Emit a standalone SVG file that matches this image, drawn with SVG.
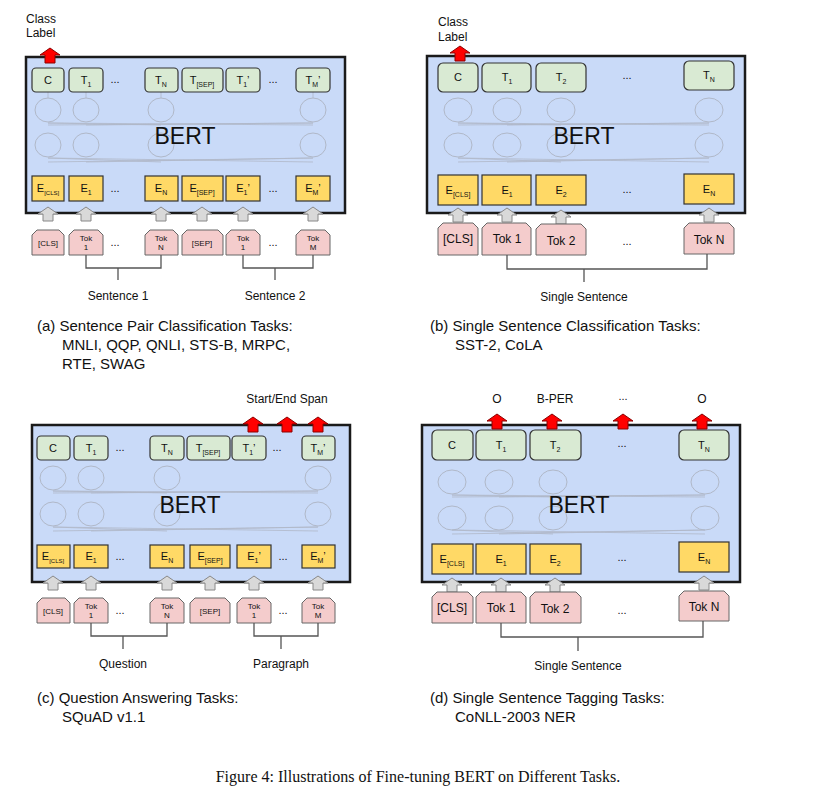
<svg xmlns="http://www.w3.org/2000/svg" width="837" height="798" viewBox="0 0 837 798">
<style>
text{font-family:"Liberation Sans",Arial,sans-serif;fill:#111}
.bert{fill:#c9daf8;stroke:#1a1a1a;stroke-width:2.5}
.t{fill:#d9ead3;stroke:#333;stroke-width:1.2}
.e{fill:#ffd966;stroke:#333;stroke-width:1.2}
.tok{fill:#f4cccc;stroke:#666;stroke-width:1}
.ga{fill:#d9d9d9;stroke:#888;stroke-width:1}
.ra{fill:#ff0000;stroke:#8b0000;stroke-width:1}
.nn ellipse{fill:none;stroke:#b0b8c8;stroke-width:1}
.nn line{stroke:#b0b8c8;stroke-width:0.8}
.br{fill:none;stroke:#555;stroke-width:1.3}
.bl{font-size:11px;text-anchor:middle}
.sm{font-size:8px;text-anchor:middle}
.bt{font-size:23px;text-anchor:middle}
.lb{font-size:12px;text-anchor:middle}
.cap{font-size:15px}
.d{font-size:11px;text-anchor:middle}
</style>
<defs>
<path id="ga" class="ga" d="M0,0 L10,7 L5,7 L5,14 L-5,14 L-5,7 L-10,7 Z"/>
<path id="ra" class="ra" d="M0,0 L10,7 L5,7 L5,15 L-5,15 L-5,7 L-10,7 Z"/>
</defs>

<!-- Panel A -->
<g id="panelA">
<rect class="bert" x="26" y="57" width="319" height="156"/>
<g class="nn">
<ellipse cx="48" cy="110" rx="13" ry="12"/><ellipse cx="86" cy="110" rx="13" ry="12"/><ellipse cx="161" cy="110" rx="13" ry="12"/><ellipse cx="313" cy="110" rx="13" ry="12"/>
<ellipse cx="48" cy="145" rx="13" ry="12"/><ellipse cx="86" cy="145" rx="13" ry="12"/><ellipse cx="161" cy="145" rx="13" ry="12"/><ellipse cx="313" cy="145" rx="13" ry="12"/>
<line x1="48" y1="125" x2="313" y2="123"/><line x1="313" y1="125" x2="48" y2="123"/><line x1="86" y1="125" x2="313" y2="123"/><line x1="161" y1="125" x2="48" y2="123"/>
<line x1="48" y1="162" x2="313" y2="158"/><line x1="313" y1="162" x2="48" y2="158"/><line x1="86" y1="162" x2="313" y2="158"/><line x1="161" y1="162" x2="48" y2="158"/>
<line x1="48" y1="92" x2="48" y2="98"/><line x1="86" y1="92" x2="86" y2="98"/><line x1="161" y1="92" x2="161" y2="98"/><line x1="313" y1="92" x2="313" y2="98"/>
</g>
<text class="bt" x="185" y="144">BERT</text>
<rect class="t" x="32" y="68" width="32" height="24" rx="4"/><text class="bl" x="48" y="84">C</text>
<rect class="t" x="69" y="68" width="34" height="24" rx="4"/><text class="bl" x="86" y="84">T<tspan font-size="7" dy="3">1</tspan></text>
<text class="d" x="115" y="83">...</text>
<rect class="t" x="145" y="68" width="33" height="24" rx="4"/><text class="bl" x="161" y="84">T<tspan font-size="7" dy="3">N</tspan></text>
<rect class="t" x="182" y="68" width="41" height="24" rx="4"/><text class="bl" x="202" y="84">T<tspan font-size="7" dy="3">[SEP]</tspan></text>
<rect class="t" x="226" y="68" width="34" height="24" rx="4"/><text class="bl" x="243" y="84">T<tspan font-size="7" dy="3">1</tspan><tspan dy="-3">’</tspan></text>
<text class="d" x="273" y="83">...</text>
<rect class="t" x="296" y="68" width="34" height="24" rx="4"/><text class="bl" x="313" y="84">T<tspan font-size="7" dy="3">M</tspan><tspan dy="-3">’</tspan></text>
<rect class="e" x="32" y="176" width="32" height="25"/><text class="bl" x="48" y="192">E<tspan font-size="6" dy="3">[CLS]</tspan></text>
<rect class="e" x="69" y="176" width="34" height="25"/><text class="bl" x="86" y="192">E<tspan font-size="7" dy="3">1</tspan></text>
<text class="d" x="115" y="192">...</text>
<rect class="e" x="145" y="176" width="33" height="25"/><text class="bl" x="161" y="192">E<tspan font-size="7" dy="3">N</tspan></text>
<rect class="e" x="182" y="176" width="41" height="25"/><text class="bl" x="202" y="192">E<tspan font-size="7" dy="3">[SEP]</tspan></text>
<rect class="e" x="226" y="176" width="34" height="25"/><text class="bl" x="243" y="192">E<tspan font-size="7" dy="3">1</tspan><tspan dy="-3">’</tspan></text>
<text class="d" x="273" y="192">...</text>
<rect class="e" x="296" y="176" width="34" height="25"/><text class="bl" x="313" y="192">E<tspan font-size="7" dy="3">M</tspan><tspan dy="-3">’</tspan></text>
<use href="#ga" x="48" y="207"/><use href="#ga" x="86" y="207"/><use href="#ga" x="161" y="207"/><use href="#ga" x="202" y="207"/><use href="#ga" x="243" y="207"/><use href="#ga" x="313" y="207"/>
<use href="#ra" x="50" y="48"/>
<text font-size="12" x="26" y="23">Class</text><text font-size="12" x="26" y="37">Label</text>
<path class="tok" d="M32,235 L37,230 L59,230 L64,235 L64,255 L32,255 Z"/><text class="sm" x="48" y="246">[CLS]</text>
<path class="tok" d="M69,235 L74,230 L98,230 L103,235 L103,255 L69,255 Z"/><text class="sm" x="86" y="241">Tok</text><text class="sm" x="86" y="250">1</text>
<text class="d" x="115" y="246">...</text>
<path class="tok" d="M145,235 L150,230 L173,230 L178,235 L178,255 L145,255 Z"/><text class="sm" x="161" y="241">Tok</text><text class="sm" x="161" y="250">N</text>
<path class="tok" d="M182,235 L187,230 L218,230 L223,235 L223,255 L182,255 Z"/><text class="sm" x="202" y="246">[SEP]</text>
<path class="tok" d="M226,235 L231,230 L255,230 L260,235 L260,255 L226,255 Z"/><text class="sm" x="243" y="241">Tok</text><text class="sm" x="243" y="250">1</text>
<text class="d" x="273" y="246">...</text>
<path class="tok" d="M296,235 L301,230 L325,230 L330,235 L330,255 L296,255 Z"/><text class="sm" x="313" y="241">Tok</text><text class="sm" x="313" y="250">M</text>
<path class="br" d="M86,255 V268 H161 V255 M118,268 V280 M243,255 V268 H313 V255 M275,268 V280"/>
<text class="lb" x="118" y="300">Sentence 1</text><text class="lb" x="275" y="300">Sentence 2</text>
<text class="cap" x="37" y="331">(a) Sentence Pair Classification Tasks:</text>
<text class="cap" x="62" y="350">MNLI, QQP, QNLI, STS-B, MRPC,</text>
<text class="cap" x="62" y="369">RTE, SWAG</text>
</g>

<!-- Panel B -->
<g id="panelB">
<rect class="bert" x="427" y="56" width="318" height="157"/>
<g class="nn">
<ellipse cx="458" cy="110" rx="14" ry="12"/><ellipse cx="507" cy="110" rx="14" ry="12"/><ellipse cx="561" cy="110" rx="14" ry="12"/><ellipse cx="709" cy="110" rx="14" ry="12"/>
<ellipse cx="458" cy="145" rx="14" ry="12"/><ellipse cx="507" cy="145" rx="14" ry="12"/><ellipse cx="561" cy="145" rx="14" ry="12"/><ellipse cx="709" cy="145" rx="14" ry="12"/>
<line x1="458" y1="125" x2="709" y2="123"/><line x1="709" y1="125" x2="458" y2="123"/><line x1="507" y1="125" x2="709" y2="123"/><line x1="561" y1="125" x2="458" y2="123"/>
<line x1="458" y1="162" x2="709" y2="158"/><line x1="709" y1="162" x2="458" y2="158"/><line x1="507" y1="162" x2="709" y2="158"/><line x1="561" y1="162" x2="458" y2="158"/>
</g>
<text class="bt" x="584" y="144">BERT</text>
<rect class="t" x="438" y="63" width="40" height="29" rx="5"/><text class="bl" x="458" y="81">C</text>
<rect class="t" x="482" y="63" width="49" height="29" rx="5"/><text class="bl" x="507" y="81">T<tspan font-size="7" dy="3">1</tspan></text>
<rect class="t" x="536" y="63" width="50" height="29" rx="5"/><text class="bl" x="561" y="81">T<tspan font-size="7" dy="3">2</tspan></text>
<text class="d" x="627" y="79">...</text>
<rect class="t" x="684" y="61" width="50" height="29" rx="5"/><text class="bl" x="709" y="79">T<tspan font-size="7" dy="3">N</tspan></text>
<rect class="e" x="438" y="175" width="40" height="30"/><text class="bl" x="458" y="194">E<tspan font-size="7" dy="3">[CLS]</tspan></text>
<rect class="e" x="482" y="175" width="49" height="30"/><text class="bl" x="507" y="194">E<tspan font-size="7" dy="3">1</tspan></text>
<rect class="e" x="536" y="175" width="50" height="30"/><text class="bl" x="561" y="194">E<tspan font-size="7" dy="3">2</tspan></text>
<text class="d" x="627" y="193">...</text>
<rect class="e" x="684" y="174" width="50" height="30"/><text class="bl" x="709" y="193">E<tspan font-size="7" dy="3">N</tspan></text>
<use href="#ga" x="458" y="208"/><use href="#ga" x="507" y="208"/><use href="#ga" x="561" y="210"/><use href="#ga" x="709" y="208"/>
<use href="#ra" x="460" y="46"/>
<text font-size="12" x="438" y="26">Class</text><text font-size="12" x="438" y="41">Label</text>
<path class="tok" d="M438,228 L443,223 L473,223 L478,228 L478,255 L438,255 Z"/><text class="lb" font-size="10" x="458" y="243">[CLS]</text>
<path class="tok" d="M482,228 L487,223 L526,223 L531,228 L531,255 L482,255 Z"/><text class="lb" x="507" y="243">Tok 1</text>
<path class="tok" d="M536,229 L541,224 L581,224 L586,229 L586,255 L536,255 Z"/><text class="lb" x="561" y="245">Tok 2</text>
<text class="d" x="627" y="245">...</text>
<path class="tok" d="M684,228 L689,223 L729,223 L734,228 L734,254 L684,254 Z"/><text class="lb" x="709" y="244">Tok N</text>
<path class="br" d="M507,255 V269 H707 V254 M584,269 V282"/>
<text class="lb" x="584" y="301">Single Sentence</text>
<text class="cap" x="430" y="331">(b) Single Sentence Classification Tasks:</text>
<text class="cap" x="455" y="350">SST-2, CoLA</text>
</g>

<!-- Panel C -->
<g id="panelC">
<rect class="bert" x="32" y="425" width="318" height="157"/>
<g class="nn">
<ellipse cx="53" cy="478" rx="13" ry="12"/><ellipse cx="91" cy="478" rx="13" ry="12"/><ellipse cx="167" cy="478" rx="13" ry="12"/><ellipse cx="318" cy="478" rx="13" ry="12"/>
<ellipse cx="53" cy="514" rx="13" ry="12"/><ellipse cx="91" cy="514" rx="13" ry="12"/><ellipse cx="167" cy="514" rx="13" ry="12"/><ellipse cx="318" cy="514" rx="13" ry="12"/>
<line x1="53" y1="493" x2="318" y2="491"/><line x1="318" y1="493" x2="53" y2="491"/><line x1="91" y1="493" x2="318" y2="491"/><line x1="167" y1="493" x2="53" y2="491"/>
<line x1="53" y1="531" x2="318" y2="527"/><line x1="318" y1="531" x2="53" y2="527"/><line x1="91" y1="531" x2="318" y2="527"/><line x1="167" y1="531" x2="53" y2="527"/>
</g>
<text class="bt" x="190" y="513">BERT</text>
<rect class="t" x="37" y="436" width="33" height="24" rx="4"/><text class="bl" x="53" y="452">C</text>
<rect class="t" x="74" y="436" width="34" height="24" rx="4"/><text class="bl" x="91" y="452">T<tspan font-size="7" dy="3">1</tspan></text>
<text class="d" x="120" y="451">...</text>
<rect class="t" x="150" y="436" width="34" height="24" rx="4"/><text class="bl" x="167" y="452">T<tspan font-size="7" dy="3">N</tspan></text>
<rect class="t" x="187" y="436" width="43" height="24" rx="4"/><text class="bl" x="208" y="452">T<tspan font-size="7" dy="3">[SEP]</tspan></text>
<rect class="t" x="232" y="436" width="34" height="24" rx="4"/><text class="bl" x="249" y="452">T<tspan font-size="7" dy="3">1</tspan><tspan dy="-3">’</tspan></text>
<text class="d" x="277" y="451">...</text>
<rect class="t" x="302" y="436" width="33" height="24" rx="4"/><text class="bl" x="318" y="452">T<tspan font-size="7" dy="3">M</tspan><tspan dy="-3">’</tspan></text>
<rect class="e" x="37" y="545" width="33" height="23"/><text class="bl" x="53" y="560">E<tspan font-size="6" dy="3">[CLS]</tspan></text>
<rect class="e" x="74" y="545" width="34" height="23"/><text class="bl" x="91" y="560">E<tspan font-size="7" dy="3">1</tspan></text>
<text class="d" x="120" y="560">...</text>
<rect class="e" x="150" y="545" width="34" height="23"/><text class="bl" x="167" y="560">E<tspan font-size="7" dy="3">N</tspan></text>
<rect class="e" x="190" y="545" width="40" height="23"/><text class="bl" x="210" y="560">E<tspan font-size="7" dy="3">[SEP]</tspan></text>
<rect class="e" x="237" y="545" width="34" height="23"/><text class="bl" x="254" y="560">E<tspan font-size="7" dy="3">1</tspan><tspan dy="-3">’</tspan></text>
<text class="d" x="283" y="560">...</text>
<rect class="e" x="302" y="545" width="33" height="23"/><text class="bl" x="318" y="560">E<tspan font-size="7" dy="3">M</tspan><tspan dy="-3">’</tspan></text>
<use href="#ga" x="53" y="576"/><use href="#ga" x="91" y="576"/><use href="#ga" x="167" y="576"/><use href="#ga" x="210" y="576"/><use href="#ga" x="254" y="576"/><use href="#ga" x="318" y="576"/>
<use href="#ra" x="253" y="417"/><use href="#ra" x="287" y="417"/><use href="#ra" x="318" y="417"/>
<text class="lb" x="287" y="403">Start/End Span</text>
<path class="tok" d="M37,603 L42,598 L65,598 L70,603 L70,623 L37,623 Z"/><text class="sm" x="53" y="614">[CLS]</text>
<path class="tok" d="M74,603 L79,598 L103,598 L108,603 L108,623 L74,623 Z"/><text class="sm" x="91" y="609">Tok</text><text class="sm" x="91" y="618">1</text>
<text class="d" x="120" y="614">...</text>
<path class="tok" d="M150,603 L155,598 L179,598 L184,603 L184,623 L150,623 Z"/><text class="sm" x="167" y="609">Tok</text><text class="sm" x="167" y="618">N</text>
<path class="tok" d="M190,603 L195,598 L225,598 L230,603 L230,623 L190,623 Z"/><text class="sm" x="210" y="614">[SEP]</text>
<path class="tok" d="M237,603 L242,598 L266,598 L271,603 L271,623 L237,623 Z"/><text class="sm" x="254" y="609">Tok</text><text class="sm" x="254" y="618">1</text>
<text class="d" x="283" y="614">...</text>
<path class="tok" d="M302,603 L307,598 L330,598 L335,603 L335,623 L302,623 Z"/><text class="sm" x="318" y="609">Tok</text><text class="sm" x="318" y="618">M</text>
<path class="br" d="M91,623 V636 H167 V623 M123,636 V649 M254,623 V636 H318 V623 M281,636 V649"/>
<text class="lb" x="123" y="668">Question</text><text class="lb" x="281" y="668">Paragraph</text>
<text class="cap" x="37" y="703">(c) Question Answering Tasks:</text>
<text class="cap" x="62" y="722">SQuAD v1.1</text>
</g>

<!-- Panel D -->
<g id="panelD">
<rect class="bert" x="422" y="425" width="318" height="157"/>
<g class="nn">
<ellipse cx="452" cy="482" rx="14" ry="12"/><ellipse cx="499" cy="482" rx="14" ry="12"/><ellipse cx="553" cy="482" rx="14" ry="12"/><ellipse cx="705" cy="482" rx="14" ry="12"/>
<ellipse cx="452" cy="518" rx="14" ry="12"/><ellipse cx="499" cy="518" rx="14" ry="12"/><ellipse cx="553" cy="518" rx="14" ry="12"/><ellipse cx="705" cy="518" rx="14" ry="12"/>
<line x1="452" y1="497" x2="705" y2="495"/><line x1="705" y1="497" x2="452" y2="495"/><line x1="499" y1="497" x2="705" y2="495"/><line x1="553" y1="497" x2="452" y2="495"/>
<line x1="452" y1="534" x2="705" y2="530"/><line x1="705" y1="534" x2="452" y2="530"/><line x1="499" y1="534" x2="705" y2="530"/><line x1="553" y1="534" x2="452" y2="530"/>
</g>
<text class="bt" x="579" y="513">BERT</text>
<rect class="t" x="432" y="430" width="41" height="30" rx="5"/><text class="bl" x="452" y="449">C</text>
<rect class="t" x="476" y="430" width="50" height="30" rx="5"/><text class="bl" x="501" y="449">T<tspan font-size="7" dy="3">1</tspan></text>
<rect class="t" x="530" y="430" width="51" height="30" rx="5"/><text class="bl" x="555" y="449">T<tspan font-size="7" dy="3">2</tspan></text>
<text class="d" x="622" y="447">...</text>
<rect class="t" x="679" y="430" width="50" height="30" rx="5"/><text class="bl" x="704" y="449">T<tspan font-size="7" dy="3">N</tspan></text>
<rect class="e" x="432" y="544" width="41" height="30"/><text class="bl" x="452" y="563">E<tspan font-size="7" dy="3">[CLS]</tspan></text>
<rect class="e" x="476" y="544" width="50" height="30"/><text class="bl" x="501" y="563">E<tspan font-size="7" dy="3">1</tspan></text>
<rect class="e" x="530" y="544" width="51" height="30"/><text class="bl" x="555" y="563">E<tspan font-size="7" dy="3">2</tspan></text>
<text class="d" x="622" y="561">...</text>
<rect class="e" x="679" y="542" width="50" height="30"/><text class="bl" x="704" y="561">E<tspan font-size="7" dy="3">N</tspan></text>
<use href="#ga" x="452" y="578"/><use href="#ga" x="501" y="578"/><use href="#ga" x="555" y="578"/><use href="#ga" x="704" y="576"/>
<use href="#ra" x="497" y="414"/><use href="#ra" x="552" y="414"/><use href="#ra" x="623" y="414"/><use href="#ra" x="702" y="414"/>
<text class="lb" x="497" y="403">O</text><text class="lb" x="555" y="403">B-PER</text><text class="d" x="623" y="400">...</text><text class="lb" x="702" y="403">O</text>
<path class="tok" d="M432,597 L437,592 L468,592 L473,597 L473,623 L432,623 Z"/><text class="lb" font-size="10" x="452" y="612">[CLS]</text>
<path class="tok" d="M476,597 L481,592 L521,592 L526,597 L526,623 L476,623 Z"/><text class="lb" x="501" y="612">Tok 1</text>
<path class="tok" d="M530,597 L535,592 L576,592 L581,597 L581,623 L530,623 Z"/><text class="lb" x="555" y="613">Tok 2</text>
<text class="d" x="622" y="614">...</text>
<path class="tok" d="M679,596 L684,591 L724,591 L729,596 L729,621 L679,621 Z"/><text class="lb" x="704" y="611">Tok N</text>
<path class="br" d="M501,623 V637 H703 V621 M578,637 V651"/>
<text class="lb" x="578" y="670">Single Sentence</text>
<text class="cap" x="430" y="703">(d) Single Sentence Tagging Tasks:</text>
<text class="cap" x="455" y="722">CoNLL-2003 NER</text>
</g>

<text x="418" y="782" font-size="16" text-anchor="middle" style="font-family:'Liberation Serif','Times New Roman',serif">Figure 4: Illustrations of Fine-tuning BERT on Different Tasks.</text>
</svg>
